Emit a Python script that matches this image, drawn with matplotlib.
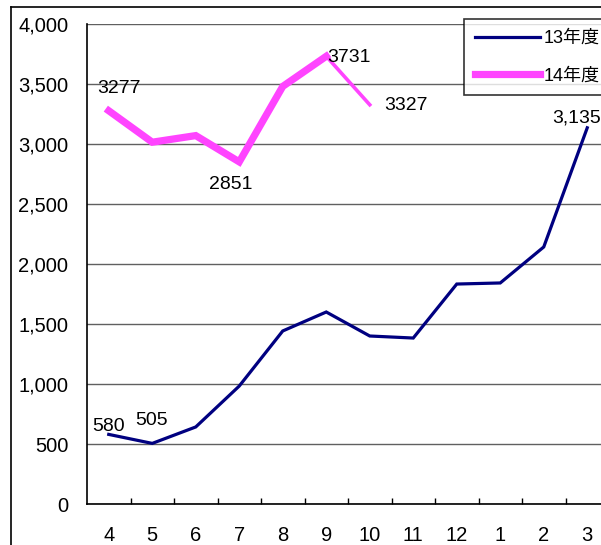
import matplotlib
matplotlib.use("Agg")
import matplotlib.pyplot as plt
from matplotlib.lines import Line2D
from matplotlib.ticker import FuncFormatter, FixedLocator

months = ["4", "5", "6", "7", "8", "9", "10", "11", "12", "1", "2", "3"]
fy13 = [580, 505, 642, 983, 1442, 1600, 1400, 1383, 1833, 1842, 2142, 3135]
fy14 = [3277, 3015, 3070, 2851, 3480, 3731, 3327]
series_names = ["13年度", "14年度"]

plt.rcParams['font.family'] = ['Liberation Sans', 'Noto Sans CJK JP', 'DejaVu Sans']

W, H = 601, 545
fig = plt.figure(figsize=(W / 100, H / 100), dpi=100)
left, right, top, bottom = 87, 87 + 12 * 43.5, 24, 504
ax = fig.add_axes([left / W, 1 - bottom / H, (right - left) / W, (bottom - top) / H])

x = list(range(len(months)))
navy = "#000080"
mag = "#FF44FF"
ax.plot(x, fy13, color=navy, lw=2.3, solid_joinstyle='miter', zorder=3)
ax.plot(x[:6], fy14[:6], color=mag, lw=5.2, solid_joinstyle='miter', zorder=3)
ax.plot(x[5:7], fy14[5:7], color=mag, lw=2.6, zorder=3)

ax.set_xlim(-0.5, 11.5)
ax.set_ylim(0, 4000)
ax.set_yticks(range(0, 4001, 500))
ax.yaxis.set_major_formatter(FuncFormatter(lambda v, p: f"{int(v):,}"))
ax.tick_params(axis='y', length=0, pad=13.5, labelsize=14.5)
ax.set_xticks(x)
ax.set_xticklabels(months)
ax.tick_params(axis='x', which='major', length=0, pad=16, labelsize=14.5)
ax.xaxis.set_minor_locator(FixedLocator([i + 0.5 for i in range(11)]))
ax.tick_params(axis='x', which='minor', direction='in', length=4.5, width=1, color='black')
ax.grid(axis='y', color='#606060', lw=1)
ax.set_axisbelow(True)
for s in ['top', 'right']:
    ax.spines[s].set_visible(False)
ax.spines['left'].set_linewidth(1.2)
ax.spines['bottom'].set_linewidth(1.2)

def lab(i, v, txt, dx, dy, ha='center'):
    ax.annotate(txt, (i, v), xytext=(dx, dy), textcoords='offset pixels',
                ha=ha, va='center', fontsize=14, zorder=5)

lab(0, fy13[0], str(fy13[0]), 0, 8)
lab(1, fy13[1], str(fy13[1]), -1, 23)
lab(11, fy13[11], f"{fy13[11]:,}", -11, 10)
lab(0, fy14[0], str(fy14[0]), 10, 22)
lab(3, fy14[3], str(fy14[3]), -8, -23)
lab(5, fy14[5], str(fy14[5]), 1, -1, ha='left')
lab(6, fy14[6], str(fy14[6]), 14, -1, ha='left')

handles = [Line2D([], [], color=navy, lw=2.3), Line2D([], [], color=mag, lw=5.2)]
leg = fig.legend(handles, series_names, loc='upper left',
                 bbox_to_anchor=(464 / W, 1 - 19 / H), borderaxespad=0,
                 fontsize=13, frameon=True, fancybox=False, edgecolor='black',
                 handlelength=3.6, handletextpad=0.2, labelspacing=1.15,
                 borderpad=0.6)
leg.get_frame().set_linewidth(1.2)

fig.add_artist(Line2D([11 / W, 11 / W], [0, 1 - 7 / H], color='black', lw=1.2,
                      transform=fig.transFigure))
fig.add_artist(Line2D([11 / W, 1], [1 - 7 / H, 1 - 7 / H], color='black', lw=1.2,
                      transform=fig.transFigure))

fig.savefig("out.png", dpi=100)
